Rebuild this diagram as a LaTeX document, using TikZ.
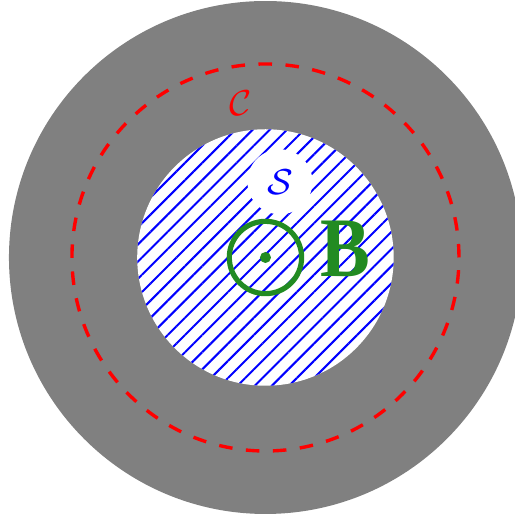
\documentclass[tikz,border=0pt]{standalone}
\usepackage{fontspec}
\newfontfamily\fieldfont{Liberation Serif}
\usetikzlibrary{patterns.meta}
\definecolor{fieldgreen}{RGB}{34,139,34}
\tikzset{
  hatch/.style={pattern={Lines[angle=45,distance=2.7pt,line width=0.45pt]},pattern color=blue},
  loopline/.style={red,dashed,line width=0.75pt},
  fieldline/.style={fieldgreen,line width=1.15pt}
}
\begin{document}
\begin{tikzpicture}[scale=1.0]
\useasboundingbox (-2.070,-2.047) rectangle (1.945,2.008);
\clip (-2.070,-2.047) rectangle (1.945,2.008);
\fill[gray] (0,0) circle (2);
\fill[white] (0,0) circle (1);
\fill[hatch] (0,0) circle (1);
\draw[loopline] (0,0) circle (1.509);
\node[red,font=\footnotesize] (curve) at (-0.195,1.202) {$\mathcal{C}$};
\node[circle,fill=white,minimum size=0.507cm,inner sep=0pt,text=blue,font=\footnotesize] (surf) at (0.113,0.59) {$\mathcal{S}$};
\draw[fieldline] (0,0) circle (0.282);
\fill[fieldgreen] (0,0) circle (0.043);
\node[fieldgreen,font=\fieldfont\bfseries\fontsize{18.8}{20}\selectfont] (field) at (0.624,0.07) {\scalebox{0.88}[1]{B}};
\end{tikzpicture}
\end{document}
